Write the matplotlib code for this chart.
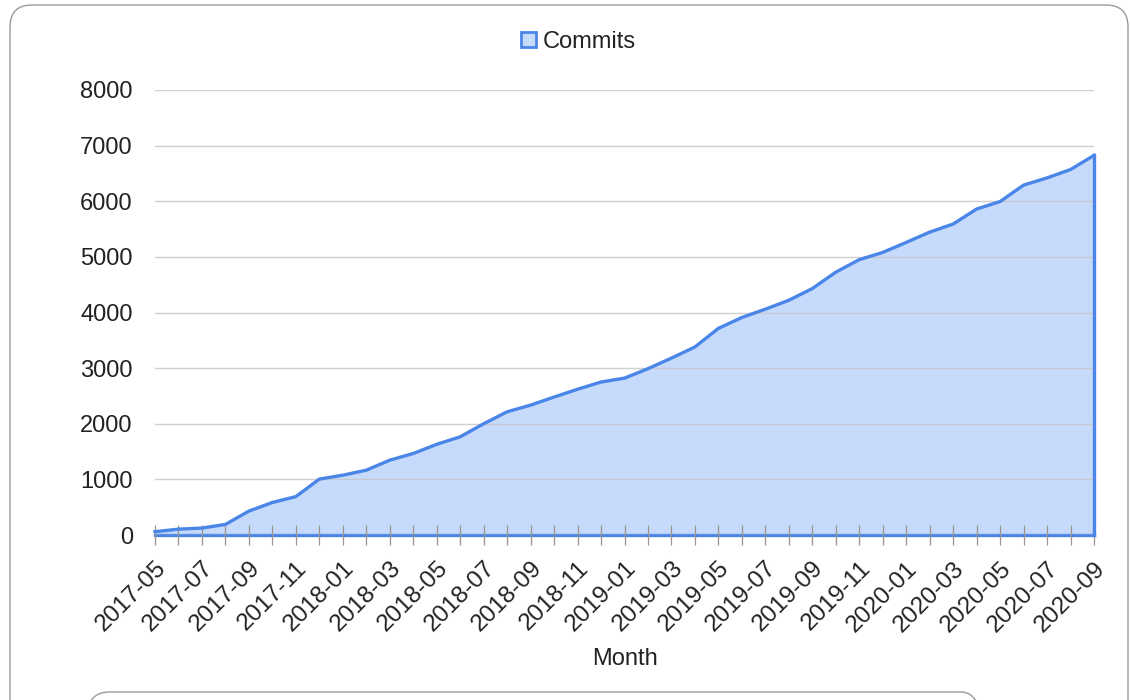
import matplotlib
matplotlib.use("Agg")
import matplotlib.pyplot as plt
from matplotlib.patches import FancyBboxPatch, Patch
from matplotlib.transforms import IdentityTransform

months = ["2017-05", "2017-06", "2017-07", "2017-08", "2017-09", "2017-10", "2017-11", "2017-12",
          "2018-01", "2018-02", "2018-03", "2018-04", "2018-05", "2018-06", "2018-07", "2018-08",
          "2018-09", "2018-10", "2018-11", "2018-12", "2019-01", "2019-02", "2019-03", "2019-04",
          "2019-05", "2019-06", "2019-07", "2019-08", "2019-09", "2019-10", "2019-11", "2019-12",
          "2020-01", "2020-02", "2020-03", "2020-04", "2020-05", "2020-06", "2020-07", "2020-08",
          "2020-09"]
commits = [60, 105, 125, 190, 430, 585, 690, 1005,
           1075, 1165, 1345, 1465, 1630, 1765, 2000, 2215,
           2335, 2480, 2620, 2750, 2820, 2990, 3180, 3380,
           3715, 3910, 4060, 4220, 4430, 4725, 4950, 5080,
           5260, 5445, 5590, 5860, 5995, 6290, 6420, 6570,
           6825]
yticks = [0, 1000, 2000, 3000, 4000, 5000, 6000, 7000, 8000]

plt.rcParams['font.family'] = ['Liberation Sans', 'DejaVu Sans']

LINE = "#4a86e8"
FILL = "#c6dafc"

W, H = 1130, 700
fig = plt.figure(figsize=(W / 100, H / 100), dpi=100)
fig.patch.set_facecolor("white")

# card outlines (pixel coordinates, origin bottom-left)
outer = FancyBboxPatch((10, -40), 1118, 735, boxstyle="round,pad=0,rounding_size=22",
                       transform=IdentityTransform(), facecolor="none",
                       edgecolor="#9a9a9a", linewidth=1.0)
inner = FancyBboxPatch((88, -60), 895, 68, boxstyle="round,pad=0,rounding_size=22",
                       transform=IdentityTransform(), facecolor="none",
                       edgecolor="#9a9a9a", linewidth=1.0)
fig.add_artist(outer)
fig.add_artist(inner)

left, right = 155 / W, 1094 / W
bottom, top = 1 - 535 / H, 1 - 90 / H
ax = fig.add_axes([left, bottom, right - left, top - bottom])
ax.set_axisbelow(False)

x = list(range(len(months)))
ax.fill_between(x, 0, commits, facecolor=FILL, edgecolor="none", zorder=1)
ax.plot([x[0], x[-1]], [0, 0], color=LINE, linewidth=2.4, zorder=2, clip_on=False)
ax.plot(x, commits, color=LINE, linewidth=2.4, zorder=3, solid_joinstyle="round",
        clip_on=False)
ax.plot([x[-1], x[-1]], [0, commits[-1]], color=LINE, linewidth=2.4, zorder=3,
        clip_on=False)

ax.set_xlim(0, len(months) - 1)
ax.set_ylim(0, 8000)
ax.set_yticks(yticks)
ax.set_yticklabels([str(v) for v in yticks])
ax.grid(axis="y", color="#c4c4c4", linewidth=1.0, alpha=0.8)
for s in ax.spines.values():
    s.set_visible(False)

ax.tick_params(axis="y", length=0, pad=16, labelsize=17, labelcolor="#222222")
ax.set_xticks(x)
ax.set_xticklabels([m if i % 2 == 0 else "" for i, m in enumerate(months)])
ax.tick_params(axis="x", direction="inout", length=14, width=0.9, color="#9a948c",
               pad=9, labelsize=17.5, labelcolor="#222222")
for lab in ax.get_xticklabels():
    lab.set_rotation(45)
    lab.set_ha("right")
    lab.set_va("top")
    lab.set_rotation_mode("anchor")

ax.set_xlabel("Month", fontsize=17, color="#222222")
ax.xaxis.set_label_coords(0.5, -0.253)

handle = Patch(facecolor=FILL, edgecolor=LINE, linewidth=2)
fig.legend([handle], ["Commits"], loc="center", bbox_to_anchor=(0.512, 0.94),
           frameon=False, fontsize=17, handlelength=0.6, handleheight=0.6,
           handletextpad=0.3, labelcolor="#222222")

fig.savefig("out.png", dpi=100)
